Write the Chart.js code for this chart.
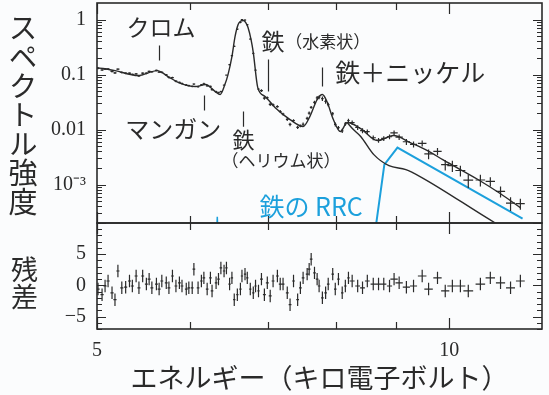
<!DOCTYPE html>
<html>
<head>
<meta charset="utf-8">
<script src="https://cdn.jsdelivr.net/npm/chart.js@4.4.1/dist/chart.umd.min.js"></script>
<style>
  body { margin: 0; background: #fbfcfd; }
  #wrap { position: relative; width: 549px; height: 395px; overflow: hidden; }
  canvas { position: absolute; left: 0; top: 0; }
  .vt { position: absolute; writing-mode: vertical-rl; text-orientation: upright;
        font-family: 'Noto Sans CJK JP', sans-serif; line-height: 1; color: #2a2a2a; }
</style>
</head>
<body>
<div id="wrap">
  <canvas id="specChart" width="549" height="395"></canvas>
  <canvas id="resChart" width="549" height="395"></canvas>
  <div class="vt" style="left:8px; top:13px; font-size:29px;">スペクトル強度</div>
  <div class="vt" style="left:11px; top:256px; font-size:27px;">残差</div>
</div>
<script>
// observed spectrum (bin centre keV, flux, 1 sigma, half bin width) and residuals
const energy = [
  5.01, 5.05, 5.08, 5.11, 5.15, 5.18, 5.21, 5.25, 5.29, 5.33,
  5.36, 5.40, 5.43, 5.47, 5.51, 5.54, 5.57, 5.62, 5.65, 5.68,
  5.73, 5.76, 5.80, 5.84, 5.88, 5.91, 5.96, 5.99, 6.03, 6.05,
  6.10, 6.14, 6.17, 6.21, 6.25, 6.27, 6.32, 6.35, 6.38, 6.42,
  6.45, 6.49, 6.52, 6.55, 6.59, 6.63, 6.65, 6.69, 6.72, 6.76,
  6.80, 6.83, 6.87, 6.91, 6.95, 6.99, 7.03, 7.07, 7.13, 7.17,
  7.21, 7.27, 7.31, 7.36, 7.42, 7.46, 7.50, 7.56, 7.59, 7.62,
  7.67, 7.71, 7.74, 7.79, 7.84, 7.88, 7.95, 7.99, 8.04, 8.10,
  8.15, 8.20, 8.26, 8.35, 8.43, 8.51, 8.61, 8.70, 8.79, 8.89,
  8.97, 9.06, 9.19, 9.32, 9.48, 9.60, 9.77, 9.92, 10.06, 10.22,
  10.38, 10.63, 10.84, 11.06, 11.28, 11.50
];
const flux = [
  0.130, 0.121, 0.126, 0.126, 0.114, 0.107, 0.126, 0.109, 0.106, 0.106,
  0.101, 0.103, 0.0945, 0.106, 0.106, 0.114, 0.112, 0.119, 0.111, 0.110,
  0.0985, 0.0886, 0.088, 0.0757, 0.0721, 0.0687, 0.0644, 0.063, 0.061, 0.0673,
  0.060, 0.0648, 0.0681, 0.0625, 0.0608, 0.053, 0.0488, 0.0468, 0.0489, 0.0641,
  0.0976, 0.151, 0.220, 0.326, 0.668, 0.884, 0.993, 0.98, 0.808, 0.442,
  0.242, 0.12, 0.0545, 0.0509, 0.0373, 0.0379, 0.0287, 0.0281, 0.0262, 0.0213,
  0.0192, 0.0153, 0.0124, 0.0146, 0.0110, 0.0117, 0.0125, 0.016, 0.0199, 0.0254,
  0.0313, 0.0378, 0.0387, 0.0364, 0.0325, 0.0284, 0.0194, 0.0124, 0.0108, 0.0095,
  0.0127, 0.0146, 0.0134, 0.0109, 0.0096, 0.0092, 0.0071, 0.0064, 0.0069, 0.0074,
  0.0087, 0.0073, 0.0060, 0.0054, 0.0056, 0.0036, 0.0040, 0.0023, 0.0022, 0.0018,
  0.0012, 0.00121, 0.00114, 0.00075, 0.00046, 0.00045
];
const fluxErr = [
  0.0053, 0.0052, 0.005, 0.0049, 0.0048, 0.0047, 0.0046, 0.0044, 0.0043, 0.0041,
  0.004, 0.0039, 0.0038, 0.004, 0.0042, 0.0044, 0.0046, 0.0047, 0.0046, 0.0043,
  0.0039, 0.0036, 0.0033, 0.003, 0.0028, 0.0028, 0.0026, 0.0026, 0.0025, 0.0024,
  0.0024, 0.0025, 0.0026, 0.0026, 0.0023, 0.0022, 0.0019, 0.0018, 0.0018, 0.0018,
  0.0027, 0.0045, 0.0064, 0.0105, 0.021, 0.027, 0.0285, 0.028, 0.023, 0.0135,
  0.0075, 0.0036, 0.0017, 0.0029, 0.0025, 0.0022, 0.0019, 0.0016, 0.0014, 0.0013,
  0.0011, 0.001, 0.0009, 0.00084, 0.00077, 0.00072, 0.00091, 0.0011, 0.0013, 0.0015,
  0.0022, 0.0028, 0.0031, 0.0035, 0.0029, 0.0022, 0.0014, 0.001, 0.0008, 0.00084,
  0.001, 0.0011, 0.00125, 0.0011, 0.001, 0.00086, 0.0007, 0.00063, 0.00068, 0.00075,
  0.00094, 0.00084, 0.00074, 0.00066, 0.0007, 0.00072, 0.0006, 0.00049, 0.0005, 0.0004,
  0.00033, 0.00029, 0.00022, 0.00017, 0.00013, 0.0001
];
const halfWidth = [
  0.016, 0.016, 0.016, 0.016, 0.016, 0.016, 0.016, 0.016, 0.016, 0.016,
  0.016, 0.016, 0.016, 0.016, 0.016, 0.016, 0.016, 0.016, 0.016, 0.016,
  0.016, 0.016, 0.016, 0.016, 0.016, 0.016, 0.016, 0.016, 0.016, 0.016,
  0.016, 0.016, 0.016, 0.016, 0.016, 0.016, 0.016, 0.016, 0.016, 0.015,
  0.015, 0.015, 0.015, 0.015, 0.015, 0.015, 0.015, 0.015, 0.015, 0.015,
  0.015, 0.015, 0.015, 0.02, 0.02, 0.02, 0.02, 0.02, 0.02, 0.02,
  0.02, 0.02, 0.02, 0.02, 0.02, 0.02, 0.02, 0.02, 0.02, 0.02,
  0.02, 0.02, 0.02, 0.02, 0.02, 0.02, 0.02, 0.02, 0.02, 0.02,
  0.02, 0.02, 0.04, 0.04, 0.04, 0.04, 0.045, 0.045, 0.045, 0.045,
  0.065, 0.065, 0.065, 0.065, 0.08, 0.08, 0.08, 0.08, 0.1, 0.1,
  0.1, 0.1, 0.1, 0.1, 0.1, 0.1
];
const residual = [
  -0.6, -1.5, -0.1, 0.7, -1.2, -2.3, 2.3, -0.4, -0.3, 0.7,
  -0.1, 1.5, -0.4, 1.5, 0.2, 1.0, -0.4, 0.2, -0.6, 0.7,
  0.4, -0.4, 1.5, -0.1, 0.4, -0.1, -0.6, -0.4, -0.4, 2.6,
  -0.4, 0.7, 1.2, -0.6, 1.2, -0.9, 0.4, 1.0, 2.8, 2.3,
  2.8, 0.2, 1.2, -2.3, -1.5, -0.6, 1.5, 1.8, 1.2, -0.6,
  -1.2, -0.1, -0.9, 1.0, -1.5, 0.4, -1.7, 0.7, 1.5, 0.2,
  0.2, -1.2, -3.1, 0.7, -2.3, -0.4, 1.2, 1.8, 2.6, 4.2,
  2.0, 1.0, -0.1, -2.0, -1.2, 0.2, 1.8, -0.6, 1.0, -1.2,
  -0.1, 1.2, 0.7, -0.1, -0.4, 0.7, 0.2, 0.2, 0.2, -0.1,
  1.0, 0.4, -0.3, -0.1, 1.5, -0.6, 1.2, -0.9, -0.1, -0.1,
  -0.9, 0.2, 1.2, 0.4, -0.4, 0.7
];

// best-fit model, continuum without RRC, and iron RRC components
const modelEnergy = [5.00, 5.18, 5.42, 5.63, 5.75, 5.87, 6.07, 6.19, 6.31, 6.37,
  6.43, 6.47, 6.52, 6.56, 6.60, 6.63, 6.67, 6.70, 6.73, 6.77,
  6.80, 6.86, 6.96, 7.10, 7.31, 7.50, 7.60, 7.71, 7.79, 7.86,
  7.96, 8.07, 8.18, 8.40, 8.68, 8.96, 9.26, 9.57, 9.88, 10.57, 11.06, 11.50];
const modelFlux = [0.134, 0.118, 0.096, 0.118, 0.092, 0.0716, 0.0605, 0.0658, 0.049, 0.0433,
  0.0658, 0.10, 0.212, 0.49, 0.811, 0.93, 0.959, 0.88, 0.715, 0.43,
  0.251, 0.058, 0.040, 0.025, 0.0152, 0.01135, 0.0172, 0.0351, 0.0433, 0.0323,
  0.0152, 0.0092, 0.0134, 0.0104, 0.0063, 0.0078, 0.0058, 0.0042, 0.0028, 0.00125, 0.00068, 0.00038];
const contEnergy = [8.18, 8.28, 8.40, 8.62, 8.88, 9.18, 9.44, 10.93, 11.6];
const contFlux = [0.0134, 0.010, 0.0075, 0.0035, 0.0022, 0.00187, 0.0014, 0.000204, 0.0001];
const rrcEnergy = [8.60, 8.80, 9.03, 11.55];
const rrcFlux = [0.000066, 0.00231, 0.00471, 0.00024];
const rrc2Energy = [6.325, 6.335, 6.345];
const rrc2Flux = [0.0001, 0.00026, 0.0001];

// axes
const xTicks = [5, 6, 7, 8, 9, 10];
const xMajor = [5, 10];
const xLabelValues = [5, 10];
const xLabels = ['5', '10'];
const specTickValues = [0.001, 0.01, 0.1, 1];
const specTickLabels = ['10⁻³', '0.01', '0.1', '1'];
const resTickValues = [-5, 0, 5];
const resTickLabels = ['−5', '0', '5'];

const ink = '#2a2a2a';
const blue = '#1ca0dc';
const serif = "'Liberation Serif', 'Times New Roman', serif";
const gothic = "'Noto Sans CJK JP', sans-serif";

function xy(xs, ys) {
  return xs.map((x, i) => ({ x: x, y: ys[i] }));
}

// error-bar crosses as broken line segments
function crosses(lo, hi) {
  const pts = [];
  energy.forEach((e, i) => {
    const y = lo === null ? flux[i] : residual[i];
    pts.push({ x: e - halfWidth[i], y: y }, { x: e + halfWidth[i], y: y }, { x: e, y: null });
    if (lo === null) {
      pts.push({ x: e, y: flux[i] - fluxErr[i] }, { x: e, y: flux[i] + fluxErr[i] }, { x: e, y: null });
    } else {
      pts.push({ x: e, y: residual[i] - 1 }, { x: e, y: residual[i] + 1 }, { x: e, y: null });
    }
  });
  return pts;
}

function logTicks() {
  const out = [];
  for (let p = -4; p <= 0; p++) {
    for (let m = 1; m <= 9; m++) {
      const v = m * Math.pow(10, p);
      if (v > 2e-4 && v < 2) out.push({ v: v, major: m === 1 });
    }
  }
  return out;
}

function frame(yList) {
  return {
    id: 'frame',
    afterDatasetsDraw(chart) {
      const { ctx, chartArea: a, scales } = chart;
      ctx.save();
      ctx.strokeStyle = ink;
      ctx.lineWidth = 1.2;
      ctx.beginPath();
      xTicks.forEach(v => {
        const px = Math.round(scales.x.getPixelForValue(v)) + 0.5;
        const len = xMajor.includes(v) ? 11 : 7;
        ctx.moveTo(px, a.top); ctx.lineTo(px, a.top + len);
        ctx.moveTo(px, a.bottom); ctx.lineTo(px, a.bottom - len);
      });
      yList.forEach(t => {
        const py = Math.round(scales.y.getPixelForValue(t.v)) + 0.5;
        const len = t.major ? 9 : 5;
        ctx.moveTo(a.left, py); ctx.lineTo(a.left + len, py);
        ctx.moveTo(a.right, py); ctx.lineTo(a.right - len, py);
      });
      ctx.stroke();
      ctx.lineWidth = 1.6;
      ctx.strokeRect(a.left, a.top, a.right - a.left, a.bottom - a.top);
      ctx.restore();
    }
  };
}

// line identifications on the spectrum
const notes = [
  { text: 'クロム', e: 5.67, f: 0.716, size: 23, align: 'center', color: ink },
  { text: 'マンガン', e: 5.81, f: 0.0104, size: 24, align: 'center', color: ink },
  { text: '鉄', e: 6.67, f: 0.00658, size: 22, align: 'center', color: ink },
  { text: '（ヘリウム状）', e: 7.18, f: 0.00273, size: 17, align: 'center', color: ink },
  { text: '鉄', e: 7.07, f: 0.398, size: 23, align: 'center', color: ink },
  { text: '（水素状）', e: 7.24, f: 0.398, size: 17, align: 'left', color: ink },
  { text: '鉄＋ニッケル', e: 7.99, f: 0.1088, size: 25, align: 'left', color: ink },
  { text: '鉄の RRC', e: 7.62, f: 0.000398, size: 25, align: 'center', color: blue }
];
const leaders = [
  { e: 5.65, f1: 0.337, f2: 0.180 },
  { e: 6.17, f1: 0.0414, f2: 0.0221 },
  { e: 6.67, f1: 0.0212, f2: 0.0113 },
  { e: 7.00, f1: 0.187, f2: 0.0493 },
  { e: 7.79, f1: 0.134, f2: 0.0606 }
];

const labelsPlugin = {
  id: 'lineLabels',
  afterDatasetsDraw(chart) {
    const { ctx, scales: { x, y } } = chart;
    ctx.save();
    ctx.strokeStyle = ink;
    ctx.lineWidth = 1.2;
    ctx.beginPath();
    leaders.forEach(l => {
      const px = Math.round(x.getPixelForValue(l.e)) + 0.5;
      ctx.moveTo(px, y.getPixelForValue(l.f1));
      ctx.lineTo(px, y.getPixelForValue(l.f2));
    });
    ctx.stroke();
    ctx.textBaseline = 'middle';
    notes.forEach(n => {
      ctx.font = n.size + 'px ' + gothic;
      ctx.fillStyle = n.color;
      ctx.textAlign = n.align;
      ctx.fillText(n.text, x.getPixelForValue(n.e), y.getPixelForValue(n.f));
    });
    ctx.restore();
  }
};

const lineBase = { pointRadius: 0, fill: false, tension: 0 };

// upper panel: spectrum
new Chart(document.getElementById('specChart'), {
  type: 'line',
  data: {
    datasets: [
      Object.assign({ data: crosses(null), borderColor: ink, borderWidth: 1.2 }, lineBase),
      Object.assign({}, lineBase, { data: xy(modelEnergy, modelFlux), borderColor: ink, borderWidth: 1.4, cubicInterpolationMode: 'monotone' }),
      Object.assign({}, lineBase, { data: xy(contEnergy, contFlux), borderColor: ink, borderWidth: 1.4, cubicInterpolationMode: 'monotone' }),
      Object.assign({}, lineBase, { data: xy(rrcEnergy, rrcFlux), borderColor: blue, borderWidth: 2 }),
      Object.assign({}, lineBase, { data: xy(rrc2Energy, rrc2Flux), borderColor: blue, borderWidth: 1.5 })
    ]
  },
  options: {
    responsive: false,
    animation: false,
    devicePixelRatio: 1,
    layout: { padding: { left: 0, right: 7, top: 3, bottom: 172 } },
    plugins: { legend: { display: false }, tooltip: { enabled: false } },
    scales: {
      x: { type: 'logarithmic', min: 5, max: 12, display: false },
      y: {
        type: 'logarithmic', min: 2e-4, max: 2,
        grid: { display: false, drawTicks: false },
        border: { display: false },
        ticks: { padding: 11, color: ink, font: { family: serif, size: 20 },
          callback: (v, i) => specTickLabels[i] },
        afterBuildTicks: s => { s.ticks = specTickValues.map(v => ({ value: v })); },
        afterFit: s => { s.width = 97; s.paddingTop = 0; s.paddingBottom = 0; }
      }
    }
  },
  plugins: [frame(logTicks()), labelsPlugin]
});

// lower panel: residuals
const resMinor = [];
for (let v = -7; v <= 10; v++) resMinor.push({ v: v, major: v % 5 === 0 });

new Chart(document.getElementById('resChart'), {
  type: 'line',
  data: {
    datasets: [
      Object.assign({ data: crosses(0), borderColor: ink, borderWidth: 1.2 }, lineBase)
    ]
  },
  options: {
    responsive: false,
    animation: false,
    devicePixelRatio: 1,
    layout: { padding: { left: 0, right: 7, top: 223, bottom: 0 } },
    plugins: { legend: { display: false }, tooltip: { enabled: false } },
    scales: {
      x: {
        type: 'logarithmic', min: 5, max: 12, position: 'bottom',
        grid: { display: false, drawTicks: false },
        border: { display: false },
        ticks: { padding: 10, maxRotation: 0, autoSkip: false, color: ink,
          font: { family: serif, size: 20 }, callback: (v, i) => xLabels[i] },
        afterBuildTicks: s => { s.ticks = xLabelValues.map(v => ({ value: v })); },
        title: { display: true, text: 'エネルギー（キロ電子ボルト）', color: ink,
          font: { family: gothic, size: 27 }, padding: { top: 0, bottom: 1 } },
        afterFit: s => { s.height = 66; s.paddingLeft = 0; s.paddingRight = 0; }
      },
      y: {
        type: 'linear', min: -7, max: 10,
        grid: { display: false, drawTicks: false },
        border: { display: false },
        ticks: { padding: 11, color: ink, font: { family: serif, size: 20 },
          callback: (v, i) => resTickLabels[i] },
        afterBuildTicks: s => { s.ticks = resTickValues.map(v => ({ value: v })); },
        afterFit: s => { s.width = 97; s.paddingTop = 0; s.paddingBottom = 0; }
      }
    }
  },
  plugins: [frame(resMinor)]
});
</script>
</body>
</html>
